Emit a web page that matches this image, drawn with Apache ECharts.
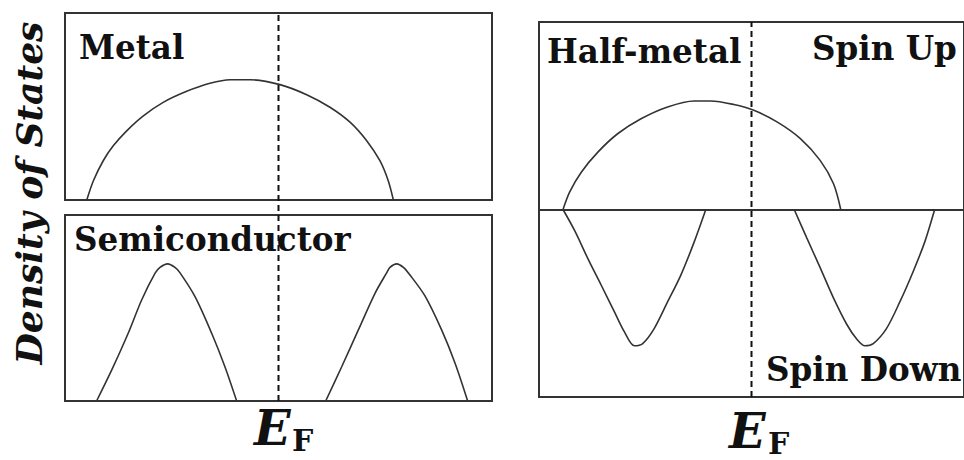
<!DOCTYPE html>
<html><head><meta charset="utf-8">
<script src="https://cdn.jsdelivr.net/npm/echarts@6/dist/echarts.min.js"></script>
<style>html,body{margin:0;padding:0;background:#fff}#c{width:964px;height:460px}</style>
</head><body><div id="c"></div>
<script>
// ---- data (energy relative to Fermi level, DOS in arbitrary units) ----
const energyRange = [-1, 1];
const fermiLevel = 0;
const metalDos = [[-0.898,0],[-0.867,0.103],[-0.821,0.210],[-0.774,0.290],[-0.711,0.370],[-0.633,0.450],[-0.540,0.522],[-0.430,0.581],[-0.321,0.624],[-0.227,0.643],[-0.133,0.643],[0.007,0.617],[0.132,0.563],[0.241,0.496],[0.335,0.416],[0.413,0.317],[0.475,0.210],[0.514,0.103],[0.538,0]];
const semiValence = [[-0.852,0],[-0.781,0.167],[-0.704,0.364],[-0.641,0.543],[-0.578,0.687],[-0.555,0.718],[-0.519,0.737],[-0.485,0.718],[-0.462,0.690],[-0.391,0.561],[-0.313,0.364],[-0.251,0.184],[-0.196,0]];
const semiConduction = [[0.221,0],[0.296,0.184],[0.374,0.382],[0.452,0.579],[0.507,0.690],[0.522,0.718],[0.554,0.737],[0.585,0.718],[0.612,0.683],[0.686,0.565],[0.764,0.382],[0.827,0.203],[0.886,0]];
const spinUpDos = [[-0.887,0],[-0.856,0.093],[-0.801,0.199],[-0.723,0.306],[-0.630,0.404],[-0.520,0.484],[-0.395,0.547],[-0.270,0.579],[-0.192,0.579],[-0.083,0.560],[0.011,0.529],[0.120,0.467],[0.230,0.378],[0.323,0.262],[0.386,0.137],[0.420,0]];
const spinDownValence = [[-0.887,0],[-0.832,-0.113],[-0.770,-0.262],[-0.707,-0.404],[-0.645,-0.546],[-0.598,-0.653],[-0.551,-0.727],[-0.512,-0.715],[-0.458,-0.635],[-0.395,-0.493],[-0.333,-0.351],[-0.270,-0.174],[-0.215,0]];
const spinDownConduction = [[0.201,0],[0.260,-0.151],[0.323,-0.310],[0.385,-0.470],[0.448,-0.612],[0.495,-0.691],[0.534,-0.727],[0.573,-0.715],[0.635,-0.635],[0.698,-0.493],[0.760,-0.333],[0.815,-0.174],[0.862,0]];
const panelLabels = ['Metal', 'Semiconductor', 'Half-metal', 'Spin Up', 'Spin Down'];
const yAxisTitle = 'Density of States';
const xAxisTitle = ['E', 'F'];

// ---- styling ----
const FAM = "'DejaVu Serif', serif";
const INK = '#111';
function fitSize(text, style, target) {
  const ctx = document.createElement('canvas').getContext('2d');
  ctx.font = style + ' 100px ' + FAM;
  return 100 * target / ctx.measureText(text).width;
}
const labelSize = fitSize(panelLabels[1], 'bold', 277);
const ySize = fitSize(yAxisTitle, 'italic bold', 343);
const labelFont = 'bold ' + labelSize.toFixed(1) + 'px ' + FAM;

const frame = { show: true, borderColor: '#333', borderWidth: 2, backgroundColor: 'transparent' };
const grids = [
  Object.assign({ left: 65, top: 13, width: 427, height: 187 }, frame),
  Object.assign({ left: 65, top: 215, width: 427, height: 186 }, frame),
  Object.assign({ left: 539, top: 22, width: 427, height: 375 }, frame),
  { left: 65, top: 13, width: 427, height: 388, show: false }
];
const hiddenX = i => ({ type: 'value', gridIndex: i, min: energyRange[0], max: energyRange[1], show: false });
const xAxes = [hiddenX(0), hiddenX(1),
  { type: 'value', gridIndex: 2, min: energyRange[0], max: energyRange[1],
    axisLine: { show: true, onZero: true, lineStyle: { color: '#333', width: 2 } },
    axisTick: { show: false }, axisLabel: { show: false }, splitLine: { show: false } },
  hiddenX(3)];
const yAxes = [
  { type: 'value', gridIndex: 0, min: 0, max: 1, show: false },
  { type: 'value', gridIndex: 1, min: 0, max: 1, show: false },
  { type: 'value', gridIndex: 2, min: -1, max: 1, show: false },
  { type: 'value', gridIndex: 3, min: 0, max: 1, show: false }
];
const curve = (data, i) => ({ type: 'line', xAxisIndex: i, yAxisIndex: i, data, smooth: 0.3,
  showSymbol: false, silent: true, lineStyle: { color: '#333', width: 1.6 } });
const dashed = (data, i) => ({ type: 'line', xAxisIndex: i, yAxisIndex: i, data, showSymbol: false, silent: true,
  lineStyle: { color: '#111', width: 2, type: [6, 4] } });

const txt = (text, x, y, font, extra) => Object.assign({ type: 'text', x, y, silent: true,
  style: { text, font, fill: INK, align: 'left', verticalAlign: 'middle' } }, extra || {});

const option = {
  animation: false,
  backgroundColor: '#fff',
  grid: grids, xAxis: xAxes, yAxis: yAxes,
  series: [
    curve(metalDos, 0),
    curve(semiValence, 1), curve(semiConduction, 1),
    curve(spinUpDos, 2), curve(spinDownValence, 2), curve(spinDownConduction, 2),
    dashed([[fermiLevel, 0], [fermiLevel, 1]], 3),
    dashed([[fermiLevel, -1], [fermiLevel, 1]], 2)
  ],
  graphic: [
    txt(panelLabels[0], 79, 47, labelFont),
    txt(panelLabels[1], 74, 239, labelFont),
    txt(panelLabels[2], 547, 51, labelFont),
    txt(panelLabels[3], 812, 48, labelFont),
    txt(panelLabels[4], 766, 369, labelFont),
    { type: 'text', x: 29, y: 193, rotation: Math.PI / 2, silent: true,
      style: { text: yAxisTitle, font: 'italic bold ' + ySize.toFixed(1) + 'px ' + FAM, fill: INK, align: 'center', verticalAlign: 'middle' } },
    txt(xAxisTitle[0], 254, 428, 'italic bold 48px ' + FAM),
    txt(xAxisTitle[1], 292, 440, 'bold 30px ' + FAM),
    txt(xAxisTitle[0], 729, 431, 'italic bold 48px ' + FAM),
    txt(xAxisTitle[1], 768, 443, 'bold 30px ' + FAM)
  ]
};
const chart = echarts.init(document.getElementById('c'), null, { renderer: 'svg' });
chart.setOption(option);
</script>
</body></html>
